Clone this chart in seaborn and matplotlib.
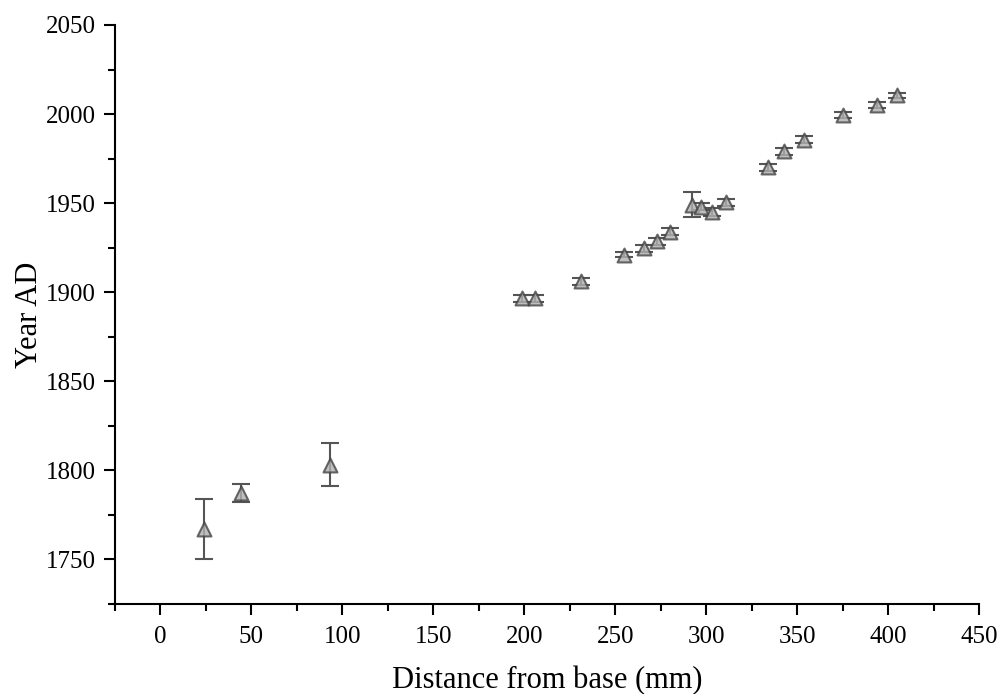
import matplotlib
matplotlib.use("Agg")
import matplotlib.pyplot as plt
from matplotlib.ticker import MultipleLocator
import seaborn as sns
import pandas as pd

distance_mm = [24, 44, 93, 199, 206, 231, 255, 266, 273, 280, 292, 297, 303, 311,
               334, 343, 354, 375, 394, 405]
year_ad = [1767, 1787, 1803, 1896.5, 1896.5, 1906, 1921, 1924.5, 1928.5, 1934,
           1949, 1948, 1945, 1950.5, 1970, 1979, 1985.5, 1999.5, 2005, 2010.5]
year_err = [17, 5, 12, 2, 2, 2, 1.5, 2, 2, 2, 7, 2, 2, 2, 2, 2, 2, 1.5, 1.5, 1.5]

df = pd.DataFrame({"x": distance_mm, "y": year_ad, "err": year_err})

sns.set_theme(style="ticks")
plt.rcParams['font.family'] = ['Liberation Serif', 'DejaVu Serif']

fig = plt.figure(figsize=(10, 6.94), dpi=100)
ax = fig.add_axes([0.115, 0.130, 0.864, 0.834])

ax.errorbar(df["x"], df["y"], yerr=df["err"], fmt="none", ecolor="#555555",
            elinewidth=1.5, capsize=6.5, capthick=1.5, zorder=2)
sns.scatterplot(data=df, x="x", y="y", marker="^", s=100, color="#b0b0b0",
                edgecolor="#444444", linewidth=1.5, alpha=0.8, ax=ax, zorder=3)

ax.set_xlim(-25, 450)
ax.set_ylim(1725, 2050)
ax.xaxis.set_major_locator(MultipleLocator(50))
ax.xaxis.set_minor_locator(MultipleLocator(25))
ax.yaxis.set_major_locator(MultipleLocator(50))
ax.yaxis.set_minor_locator(MultipleLocator(25))

for side in ["top", "right"]:
    ax.spines[side].set_visible(False)
for side in ["left", "bottom"]:
    ax.spines[side].set_color("black")
    ax.spines[side].set_linewidth(1.5)

ax.tick_params(axis="both", which="major", direction="out", length=8, width=1.5,
               color="black", labelsize=18, labelcolor="black")
ax.tick_params(axis="x", which="major", pad=8)
ax.tick_params(axis="y", which="major", pad=6)
ax.tick_params(axis="both", which="minor", direction="out", length=5, width=1.5,
               color="black")

ax.set_xlabel("Distance from base (mm)", fontsize=22, color="black", labelpad=13)
ax.set_ylabel("Year AD", fontsize=22, color="black", labelpad=1)

fig.savefig("out.png", dpi=100, facecolor="white")
